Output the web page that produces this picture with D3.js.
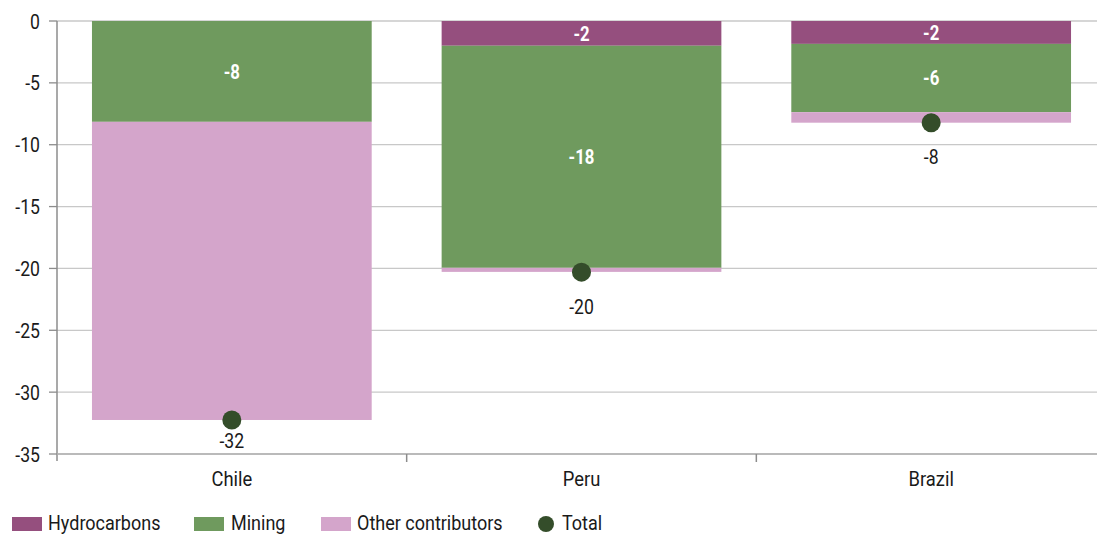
<!DOCTYPE html>
<html><head><meta charset="utf-8">
<script src="https://cdn.jsdelivr.net/npm/d3@7"></script>
<style>
html,body{margin:0;padding:0;background:#fff;}
text{font-family:"Roboto","Liberation Sans",sans-serif;}
</style></head>
<body><svg id="c" width="1097" height="535"></svg>
<script>
const categories = ["Chile", "Peru", "Brazil"];
const hydrocarbons = [0, -2.0, -1.85];
const mining = [-8.15, -17.95, -5.52];
const other = [-24.1, -0.33, -0.85];
const total = [-32.25, -20.3, -8.22];
const yTicks = [0, -5, -10, -15, -20, -25, -30, -35];
const seriesNames = ["Hydrocarbons", "Mining", "Other contributors", "Total"];
const colors = {hydro:"#954f7e", mining:"#6f9a5e", other:"#d4a5cb", total:"#344d2a"};

const fmt = v => (v < 0 ? "-" : "") + Math.round(Math.abs(v));
function label(g, px, py, str, opts) {
  opts = opts || {};
  const sx = opts.sx || 0.84;
  return g.append("text")
    .attr("transform", `translate(${px},${py}) scale(${sx},1)`)
    .attr("dy", "0.36em")
    .attr("text-anchor", opts.anchor || "middle")
    .attr("font-size", opts.size || 20)
    .attr("font-weight", opts.weight || 400)
    .attr("fill", opts.fill || "#1a1a1a")
    .text(str);
}

const svg = d3.select("#c");
const W = 1097;
const x = d3.scaleBand().domain(categories).range([57, 1106]).paddingInner(0.2).paddingOuter(0.1);
const y = d3.scaleLinear().domain([-35, 0]).range([454, 21]);

// gridlines
svg.append("g").selectAll("line").data(yTicks).join("line")
  .attr("x1", 57).attr("x2", W).attr("y1", d=>y(d)).attr("y2", d=>y(d))
  .attr("stroke", "#c8c8c8").attr("stroke-width", 1.3);

// stacked bars
const stackRows = categories.map((c,i)=>({cat:c, segs:[
  {k:"hydro", v:hydrocarbons[i]}, {k:"mining", v:mining[i]}, {k:"other", v:other[i]}]}));
stackRows.forEach(r=>{
  let acc = 0;
  r.segs.forEach(s=>{ s.y0 = acc; acc += s.v; s.y1 = acc; });
});
const bars = svg.append("g");
const barLabels = svg.append("g");
stackRows.forEach(r=>{
  r.segs.filter(s=>s.v!==0).forEach(s=>{
    bars.append("rect").attr("x", x(r.cat)).attr("width", x.bandwidth())
      .attr("y", y(s.y0)).attr("height", y(s.y1)-y(s.y0)).attr("fill", colors[s.k]);
    if (s.k !== "other" && Math.abs(s.v) >= 1) {
      label(barLabels, x(r.cat)+x.bandwidth()/2, (y(s.y0)+y(s.y1))/2, fmt(s.v), {fill:"#fff", weight:700, size:20});
    }
  });
});

// y axis
const ya = svg.append("g");
ya.append("line").attr("x1",57).attr("x2",57).attr("y1",y(0)).attr("y2",y(-35)+7).attr("stroke","#8c8c8c").attr("stroke-width",1.5);
ya.selectAll("line.t").data(yTicks).join("line").attr("class","t")
  .attr("x1",49).attr("x2",57).attr("y1",d=>y(d)).attr("y2",d=>y(d)).attr("stroke","#8c8c8c").attr("stroke-width",1.3);
yTicks.forEach(t => label(ya, 40, y(t), String(t), {anchor:"end", size:21}));

// x axis
const xa = svg.append("g");
xa.append("line").attr("x1",57).attr("x2",W).attr("y1",y(-35)).attr("y2",y(-35)).attr("stroke","#b0b0b0").attr("stroke-width",1.5);
const boundaries = categories.map(c=>x(c) - x.step()*x.paddingOuter()).slice(1);
xa.selectAll("line.t").data(boundaries).join("line").attr("class","t")
  .attr("x1",d=>d).attr("x2",d=>d).attr("y1",y(-35)).attr("y2",y(-35)+8).attr("stroke","#8c8c8c").attr("stroke-width",1.5);
categories.forEach(c => label(xa, x(c)+x.bandwidth()/2, 479, c, {size:20, sx:0.92}));

// totals
const tg = svg.append("g");
categories.forEach((c,i)=>{
  const cx = x(c)+x.bandwidth()/2, cy = y(total[i]);
  tg.append("circle").attr("cx",cx).attr("cy",cy).attr("r",9.5).attr("fill",colors.total);
  const ly = Math.min(cy+34, y(-35)-14);
  label(tg, cx, ly, fmt(total[i]), {size:21});
});

// legend
const lg = svg.append("g");
const legendItems = [
  {name:seriesNames[0], c:colors.hydro, sx:12, tx:48, type:"rect"},
  {name:seriesNames[1], c:colors.mining, sx:194, tx:231, type:"rect"},
  {name:seriesNames[2], c:colors.other, sx:321, tx:357, type:"rect"},
  {name:seriesNames[3], c:colors.total, sx:546, tx:562, type:"dot"}
];
legendItems.forEach(d=>{
  if (d.type==="rect") lg.append("rect").attr("x",d.sx).attr("y",517).attr("width",30).attr("height",14).attr("fill",d.c);
  else lg.append("circle").attr("cx",d.sx).attr("cy",524).attr("r",8).attr("fill",d.c);
  label(lg, d.tx, 523, d.name, {anchor:"start", size:20, sx:0.9});
});
</script></body></html>
